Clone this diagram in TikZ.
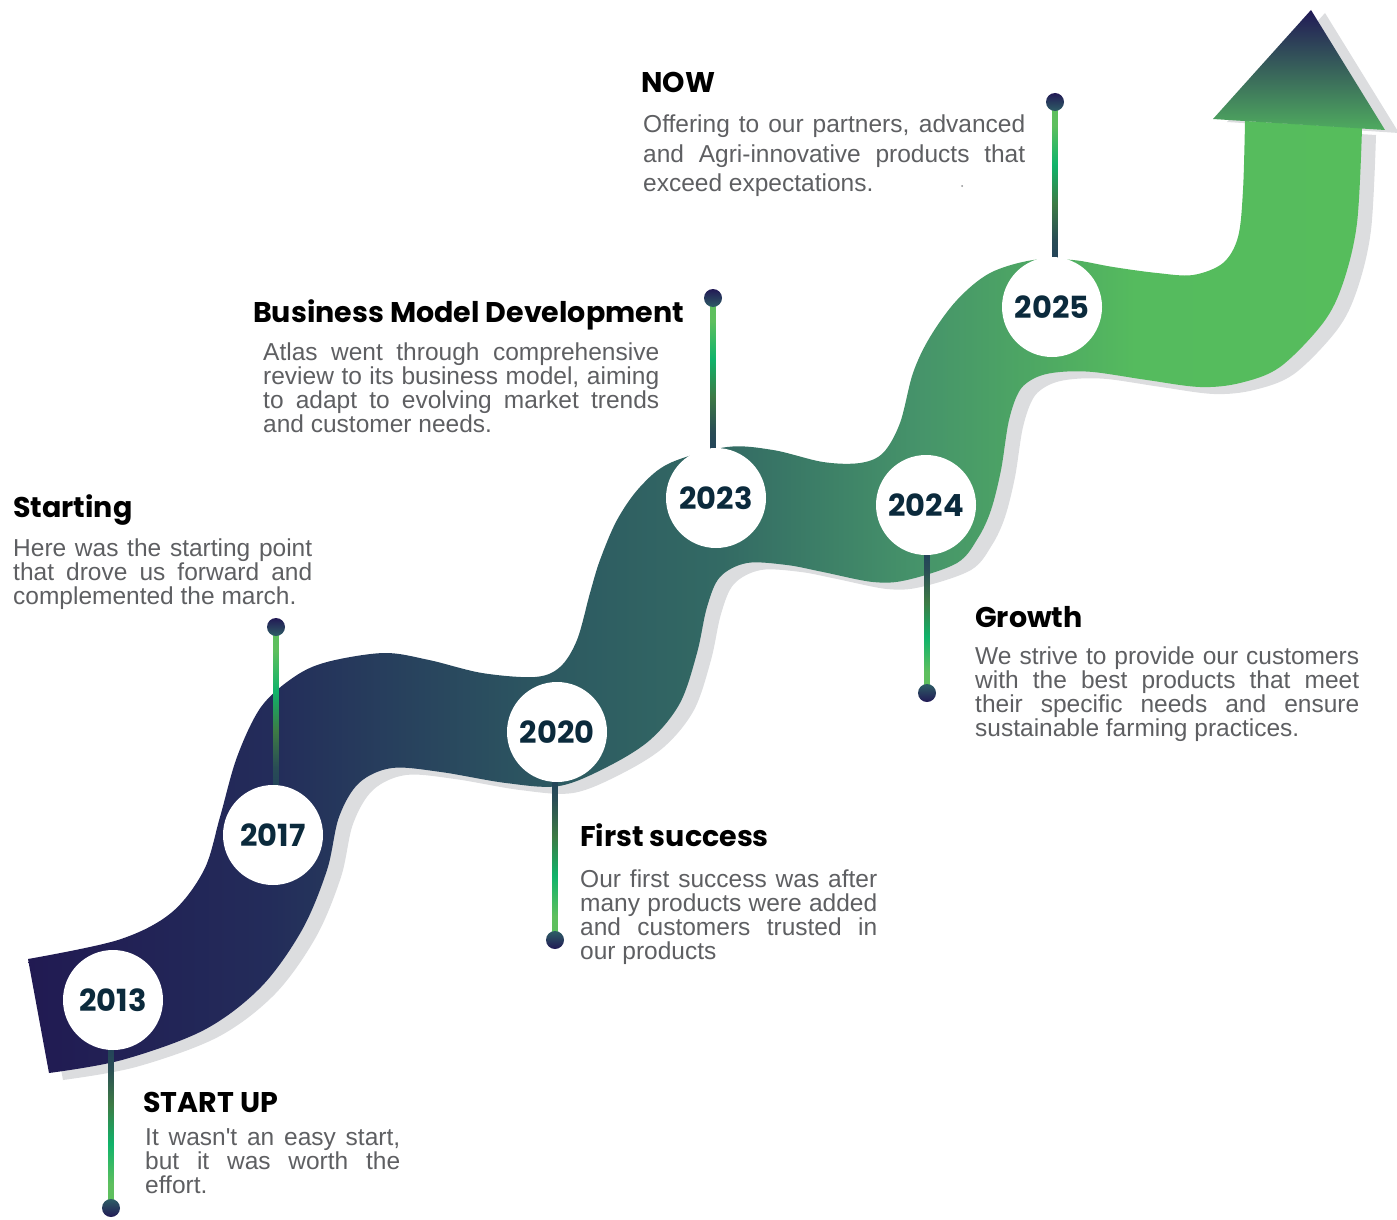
\documentclass[tikz,border=0pt]{standalone}
\usepackage{fontspec}
\setmainfont{Liberation Sans}
\newfontfamily\headfont{Poppins}
\usetikzlibrary{calc}
\definecolor{yearcol}{HTML}{0B2A3C}
\definecolor{bodygray}{HTML}{5E5F62}
\definecolor{shadowgray}{HTML}{DCDDDF}
\definecolor{ldark}{HTML}{23445A}
\definecolor{ldark2}{HTML}{294C55}
\definecolor{lolive}{HTML}{3D7A45}
\definecolor{lbright}{HTML}{10B36A}
\definecolor{llight}{HTML}{5EBF5E}
\definecolor{dotnavy}{HTML}{221A55}
\definecolor{dotteal}{HTML}{2E5D66}
\definecolor{r0}{HTML}{211A52}
\definecolor{r1}{HTML}{232C5A}
\definecolor{r2}{HTML}{2D5A61}
\definecolor{r3}{HTML}{336A64}
\definecolor{r4}{HTML}{46946A}
\definecolor{r5}{HTML}{4FAB62}
\definecolor{r6}{HTML}{55BB5E}
\definecolor{r7}{HTML}{56BD5C}
\definecolor{ahtop}{HTML}{211A56}
\definecolor{ahmid}{HTML}{2E5C60}
\definecolor{ahbot}{HTML}{4FAB5F}
\pgfdeclarehorizontalshading{ribbonshade}{100bp}{color(0bp)=(r0); color(25bp)=(r0); color(34bp)=(r1); color(45bp)=(r2); color(51bp)=(r3); color(58.5bp)=(r4); color(63.5bp)=(r5); color(66.5bp)=(r6); color(75bp)=(r7); color(100bp)=(r7)}
\pgfdeclareverticalshading{conup}{100bp}{color(0bp)=(ldark); color(25bp)=(ldark); color(31bp)=(ldark2); color(42.5bp)=(lolive); color(55bp)=(lbright); color(67.5bp)=(llight); color(75bp)=(llight); color(100bp)=(llight)}
\pgfdeclareverticalshading{condown}{100bp}{color(0bp)=(llight); color(25bp)=(llight); color(32.5bp)=(llight); color(45bp)=(lbright); color(57.5bp)=(lolive); color(69bp)=(ldark2); color(75bp)=(ldark); color(100bp)=(ldark)}
\newcommand{\jl}[2]{\makebox[#1][s]{#2}}
\newcommand{\ribbonpath}{plot[smooth, tension=0.55] coordinates {(28,959) (118,940) (171,913) (204,870) (220,817) (237,757) (261,707) (294,677) (327,662) (384,653) (429,660) (482,673) (535,677) (560,667) (577,640) (590,593) (600,560) (617,520) (640,487) (670,463) (727,447) (773,450) (823,462) (860,463) (883,453) (900,423) (913,373) (930,337) (957,300) (990,273) (1033,260) (1073,260) (1113,267) (1157,273) (1193,275) (1223,263) (1238,237) (1243,190) (1245,121)} -- plot[smooth, tension=0.55] coordinates {(1362,128) (1357,223) (1343,283) (1323,323) (1280,367) (1240,383) (1200,387) (1147,380) (1093,372) (1060,372) (1037,377) (1020,390) (1009,420) (1001,470) (991,510) (978,538) (957,563) (907,580) (873,582) (823,572) (787,565) (747,563) (720,577) (707,607) (697,653) (680,703) (650,740) (607,767) (559,786) (506,783) (441,772) (392,768) (359,783) (339,817) (327,870) (302,930) (261,987) (204,1030) (122,1060) (49,1073)} -- cycle}
\newcommand{\headpath}{(1213,119) -- (1311,10) -- (1385,130) -- cycle}
\newcommand{\bodyset}{\lineskiplimit=-20pt\relax}
\tikzset{
  yearc/.style={circle, fill=white, minimum size=100pt, inner sep=0pt, text=yearcol, font=\headfont\bfseries\fontsize{30.5}{32}\selectfont},
  head/.style={anchor=base west, inner sep=0pt, text=black, font=\headfont\bfseries\fontsize{28.5}{30}\selectfont},
  body/.style={anchor=base west, inner sep=0pt, text=bodygray, font=\fontsize{24.5}{24}\selectfont},
  dotup/.style={circle, minimum size=18pt, inner sep=0pt, top color=dotnavy, bottom color=dotteal},
  dotdown/.style={circle, minimum size=18pt, inner sep=0pt, top color=dotteal, bottom color=dotnavy},
  linedown/.style={shading=condown},
  lineup/.style={shading=conup}
}
\begin{document}
\begin{tikzpicture}[x=1pt, y=-1pt]
\useasboundingbox (0,0) rectangle (1397,1220);
% shadows
\fill[shadowgray, shift={(14,7)}] \ribbonpath;
\fill[shadowgray, shift={(14,3)}] \headpath;
% ribbon and arrow head
\shade[shading=ribbonshade] \ribbonpath;
\shade[top color=ahtop, middle color=ahmid, bottom color=ahbot] \headpath;
% end dots (coordinates)
\coordinate (p2013) at (111,1208);
\coordinate (p2017) at (276,627);
\coordinate (p2020) at (555,940);
\coordinate (p2023) at (713,298);
\coordinate (p2024) at (927,693);
\coordinate (p2025) at (1055,102);
% year circle positions
\coordinate (q2013) at (113,1000);
\coordinate (q2017) at (273,835);
\coordinate (q2020) at (557,732);
\coordinate (q2023) at (716,498);
\coordinate (q2024) at (926,505);
\coordinate (q2025) at (1052,307);
% connectors
\shade[linedown] ($(p2013 |- q2013)+(-2.5,48)$) rectangle ($(p2013)+(2.5,0)$);
\shade[lineup] ($(p2017)+(-2.5,0)$) rectangle ($(p2017 |- q2017)+(2.5,-48)$);
\shade[linedown] ($(p2020 |- q2020)+(-2.5,48)$) rectangle ($(p2020)+(2.5,0)$);
\shade[lineup] ($(p2023)+(-2.5,0)$) rectangle ($(p2023 |- q2023)+(2.5,-48)$);
\shade[linedown] ($(p2024 |- q2024)+(-2.5,48)$) rectangle ($(p2024)+(2.5,0)$);
\shade[lineup] ($(p2025)+(-2.5,0)$) rectangle ($(p2025 |- q2025)+(2.5,-48)$);
% year circles
\node[yearc] (c2013) at (q2013) {2013};
\node[yearc] (c2017) at (q2017) {2017};
\node[yearc] (c2020) at (q2020) {2020};
\node[yearc] (c2023) at (q2023) {2023};
\node[yearc] (c2024) at (q2024) {2024};
\node[yearc] (c2025) at (q2025) {2025};
% dots
\node[dotdown] (d2013) at (p2013) {};
\node[dotup] (d2017) at (p2017) {};
\node[dotdown] (d2020) at (p2020) {};
\node[dotup] (d2023) at (p2023) {};
\node[dotdown] (d2024) at (p2024) {};
\node[dotup] (d2025) at (p2025) {};
% texts
\node[head] (hNow) at (641,93) {NOW};
\node[body] (bNow) at (643,133) {\parbox[t]{382pt}{\bodyset\baselineskip=29.3pt
\jl{382pt}{Offering to our partners, advanced}\\
\jl{382pt}{and Agri-innovative products that}\\
exceed expectations.}};
\fill[bodygray!70] (962,186) circle (1);
\node[head] (hBiz) at (253,322) {Business Model Development};
\node[body] (bBiz) at (263,360) {\parbox[t]{396pt}{\bodyset
\jl{396pt}{Atlas went through comprehensive}\\
\jl{396pt}{review to its business model, aiming}\\
\jl{396pt}{to adapt to evolving market trends}\\
and customer needs.}};
\node[head] (hStart) at (13,517) {Starting};
\node[body] (bStart) at (13,556) {\parbox[t]{299pt}{\bodyset
\jl{299pt}{Here was the starting point}\\
\jl{299pt}{that drove us forward and}\\
complemented the march.}};
\node[head] (hGrowth) at (975,627) {Growth};
\node[body] (bGrowth) at (975,664) {\parbox[t]{384pt}{\bodyset
\jl{384pt}{We strive to provide our customers}\\
\jl{384pt}{with the best products that meet}\\
\jl{384pt}{their specific needs and ensure}\\
sustainable farming practices.}};
\node[head] (hFirst) at (580,846) {First success};
\node[body] (bFirst) at (580,887) {\parbox[t]{297pt}{\bodyset
\jl{297pt}{Our first success was after}\\
\jl{297pt}{many products were added}\\
\jl{297pt}{and customers trusted in}\\
our products}};
\node[head] (hStartup) at (143,1112) {START UP};
\node[body] (bStartup) at (145,1145) {\parbox[t]{255pt}{\bodyset
\jl{255pt}{It wasn\textquotesingle t an easy start,}\\
\jl{255pt}{but it was worth the}\\
effort.}};
\end{tikzpicture}
\end{document}
